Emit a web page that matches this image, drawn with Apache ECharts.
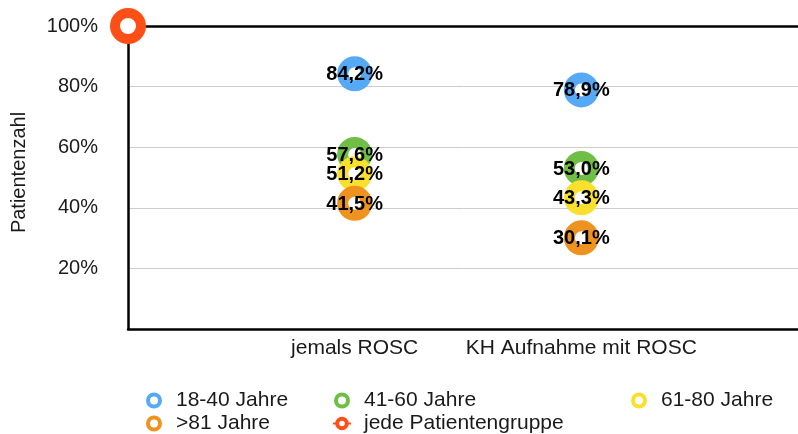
<!DOCTYPE html>
<html>
<head>
<meta charset="utf-8">
<script src="https://cdn.jsdelivr.net/npm/echarts@6/dist/echarts.min.js"></script>
<style>
html,body{margin:0;padding:0;background:#fff;}
#chart{width:798px;height:434px;}
</style>
</head>
<body>
<div id="chart"></div>
<script>
var categories = ['', 'jemals ROSC', 'KH Aufnahme mit ROSC', ''];
var seriesNames = ['18-40 Jahre', '41-60 Jahre', '61-80 Jahre', '>81 Jahre'];
var values1840 = ['-', 84.2, 78.9, '-'];
var values4160 = ['-', 57.6, 53.0, '-'];
var values6180 = ['-', 51.2, 43.3, '-'];
var values81 = ['-', 41.5, 30.1, '-'];
var valuesAll = [100, '-', '-', '-'];
var allName = 'jede Patientengruppe';
var yTicks = [0, 20, 40, 60, 80, 100];
var colors = ['#55a9f5', '#6fbe45', '#f9e02c', '#ee931f', '#fd4f16'];

var FONT = 'Liberation Sans, Arial, sans-serif';
var chart = echarts.init(document.getElementById('chart'));

function scatter(name, data, color) {
  return {
    name: name,
    type: 'scatter',
    data: data,
    symbol: 'circle',
    symbolSize: 24,
    itemStyle: { color: '#ffffff', borderColor: color, borderWidth: 11, opacity: 1 },
    label: {
      show: true,
      position: 'inside',
      color: '#000',
      fontFamily: FONT,
      fontWeight: 'bold',
      fontSize: 20,
      offset: [0, 1],
      formatter: function (p) { return p.value.toFixed(1).replace('.', ',') + '%'; }
    },
    emphasis: { disabled: true },
    clip: false
  };
}

var legendCommon = {
  orient: 'vertical',
  top: 390,
  height: 60,
  padding: 0,
  itemWidth: 18,
  itemHeight: 12,
  itemGap: 2,
  itemStyle: { borderWidth: 4 },
  textStyle: { fontFamily: FONT, fontSize: 21, color: '#1a1a1a', lineHeight: 21, padding: [0, 0, 0, 8] },
  selectedMode: false
};

var option = {
  animation: false,
  backgroundColor: '#fff',
  grid: { left: 128, right: -10, top: 26, bottom: 105, containLabel: false, outerBoundsMode: 'none' },
  legend: [
    Object.assign({}, legendCommon, { left: 146, data: [seriesNames[0], seriesNames[3]] }),
    Object.assign({}, legendCommon, { left: 332, data: [seriesNames[1], allName] }),
    Object.assign({}, legendCommon, { left: 631, data: [seriesNames[2]] })
  ],
  xAxis: [{
    type: 'category',
    data: categories,
    boundaryGap: false,
    axisLine: { show: true, lineStyle: { color: '#000', width: 2.5 } },
    axisTick: { show: false },
    axisLabel: { color: '#1a1a1a', fontFamily: FONT, fontSize: 21, margin: 9, interval: 0 },
    splitLine: { show: false }
  }, {
    type: 'category',
    position: 'top',
    data: categories,
    boundaryGap: false,
    axisLine: { show: true, onZero: false, lineStyle: { color: '#000', width: 2.5 } },
    axisTick: { show: false },
    axisLabel: { show: false },
    splitLine: { show: false }
  }],
  yAxis: {
    type: 'value',
    min: yTicks[0],
    max: yTicks[yTicks.length - 1],
    interval: 20,
    name: 'Patientenzahl',
    nameLocation: 'middle',
    nameGap: 99,
    nameTextStyle: { color: '#1a1a1a', fontFamily: FONT, fontSize: 20, padding: [0, 0, 0, 10] },
    axisLine: { show: true, lineStyle: { color: '#000', width: 2.5 } },
    axisTick: { show: false },
    axisLabel: {
      color: '#1a1a1a', fontFamily: FONT, fontSize: 20, margin: 30,
      formatter: function (v) { return v === 0 ? '' : v + '%'; }
    },
    splitLine: { show: true, lineStyle: { color: '#cccccc', width: 1 } }
  },
  series: [
    scatter(seriesNames[0], values1840, colors[0]),
    scatter(seriesNames[1], values4160, colors[1]),
    scatter(seriesNames[2], values6180, colors[2]),
    scatter(seriesNames[3], values81, colors[3]),
    {
      name: allName,
      type: 'line',
      data: valuesAll,
      symbol: 'circle',
      symbolSize: 26,
      showAllSymbol: true,
      itemStyle: { color: '#ffffff', borderColor: colors[4], borderWidth: 10 },
      lineStyle: { color: colors[4], width: 3 },
      label: { show: false },
      emphasis: { disabled: true },
      clip: false,
      z: 5
    }
  ]
};
chart.setOption(option);
</script>
</body>
</html>
